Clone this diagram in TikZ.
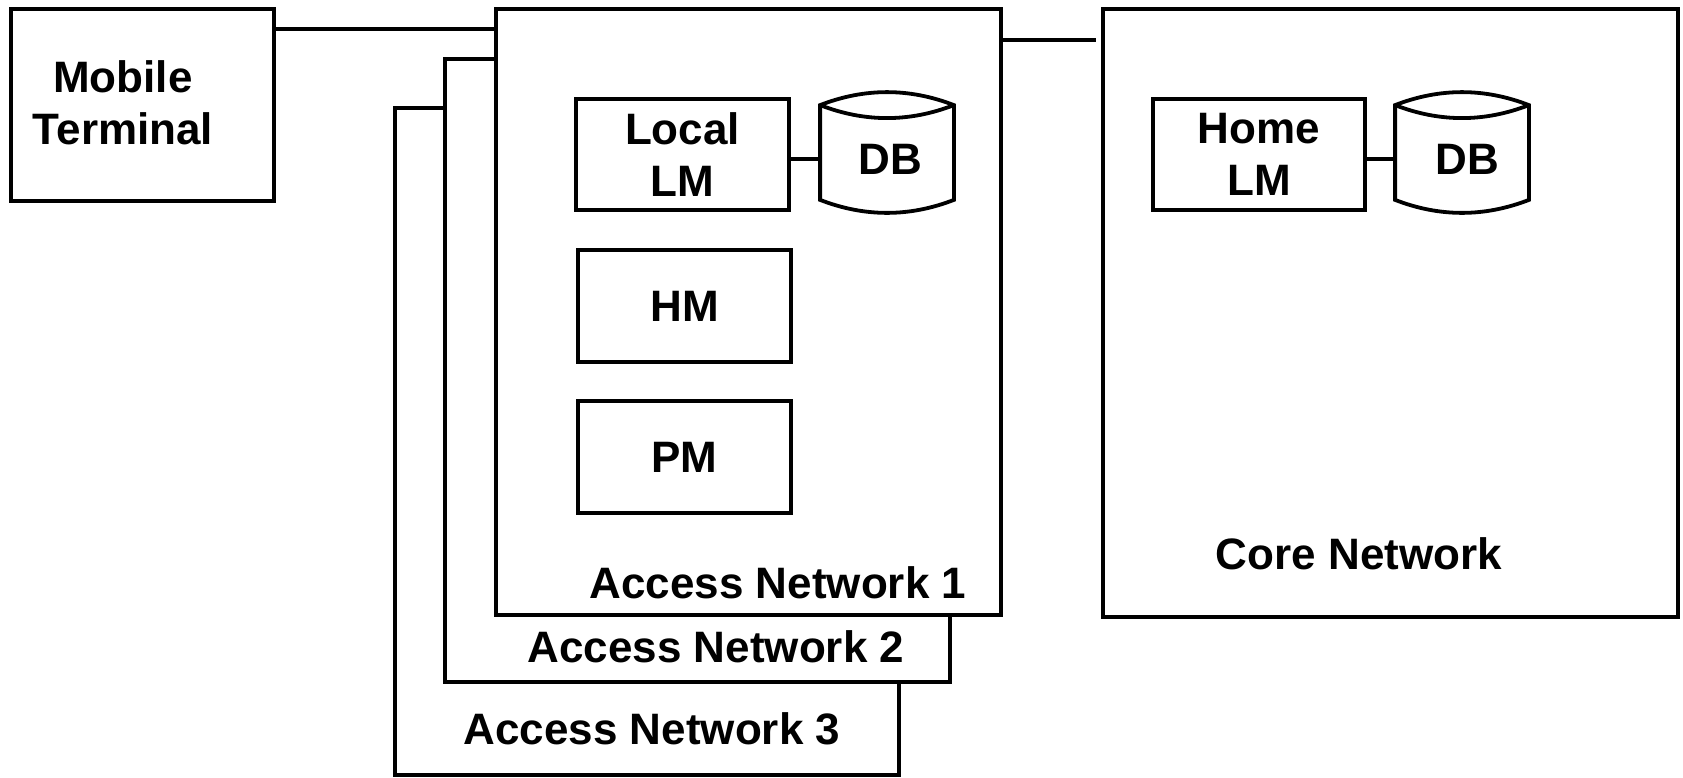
\documentclass[tikz,border=0pt]{standalone}
\usepackage{fontspec}
\setmainfont{Liberation Sans}
\usetikzlibrary{calc}
\begin{document}
\begin{tikzpicture}[x=1pt,y=-1pt,line width=3.8pt,
  lbl/.style={inner sep=0pt,font=\fontsize{44}{51.5}\selectfont\bfseries,align=center},
  box/.style={draw,rectangle,inner sep=0pt,fill=white,lbl},
  dbnode/.style={rectangle,inner sep=0pt,minimum width=130pt,minimum height=117pt}]
\useasboundingbox (0,0) rectangle (1683,777);
% access networks
\node[box,minimum width=504pt,minimum height=667pt] (an3) at (647,441.5) {};
\node[box,minimum width=505pt,minimum height=623pt] (an2) at (697.5,370.5) {};
\node[box,minimum width=505pt,minimum height=606pt] (an1) at (748.5,312) {};
\node[lbl] (an1l) at (778,583) {Access Network 1};
\node[lbl] (an2l) at (716,647) {Access Network 2};
\node[lbl] (an3l) at (652,729) {Access Network 3};
% mobile terminal
\node[box,minimum width=263pt,minimum height=192pt] (mt) at (142.5,105) {};
\node[lbl] (mtl) at (123,103) {Mobile\\Terminal};
% core network
\node[box,minimum width=575pt,minimum height=608pt] (core) at (1390.5,313) {};
\node[lbl] (corel) at (1359,554) {Core Network};
% inner boxes
\node[box,minimum width=213pt,minimum height=111pt] (llm) at (682.5,154.5) {Local\\LM};
\node[box,minimum width=213pt,minimum height=112pt] (hm) at (684.5,306) {HM};
\node[box,minimum width=213pt,minimum height=112pt] (pm) at (684.5,457) {PM};
\node[box,minimum width=212pt,minimum height=111pt] (hlm) at (1259,154.5) {Home\\LM};
% databases
\node[dbnode] (db1) at (887,152.5) {};
\node[dbnode] (db2) at (1462,152.5) {};
\foreach \d in {db1,db2}{
  \coordinate (\d tl) at ($(\d.north west)+(0,13)$);
  \coordinate (\d tr) at ($(\d.north east)+(0,13)$);
  \coordinate (\d bl) at ($(\d.south west)+(0,-13)$);
  \coordinate (\d br) at ($(\d.south east)+(0,-13)$);
  \draw[fill=white] (\d tl) -- (\d bl)
    .. controls ($(\d bl)!1/3!(\d br)+(0,17.3)$) and ($(\d bl)!2/3!(\d br)+(0,17.3)$) .. (\d br)
    -- (\d tr)
    .. controls ($(\d tl)!2/3!(\d tr)+(0,-17.3)$) and ($(\d tl)!1/3!(\d tr)+(0,-17.3)$) .. (\d tl) -- cycle;
  \draw (\d tl) .. controls ($(\d tl)!1/3!(\d tr)+(0,17.3)$) and ($(\d tl)!2/3!(\d tr)+(0,17.3)$) .. (\d tr);
}
\node[lbl] (db1l) at (890,159) {DB};
\node[lbl] (db2l) at (1467,159) {DB};
% connectors
\draw (mt.east |- 0,29) -- (an1.west |- 0,29);
\draw[shorten >=5pt] (an1.east |- 0,40) -- (core.west |- 0,40);
\draw (llm.east |- 0,159) -- (db1.west |- 0,159);
\draw (hlm.east |- 0,159) -- (db2.west |- 0,159);
\end{tikzpicture}
\end{document}
